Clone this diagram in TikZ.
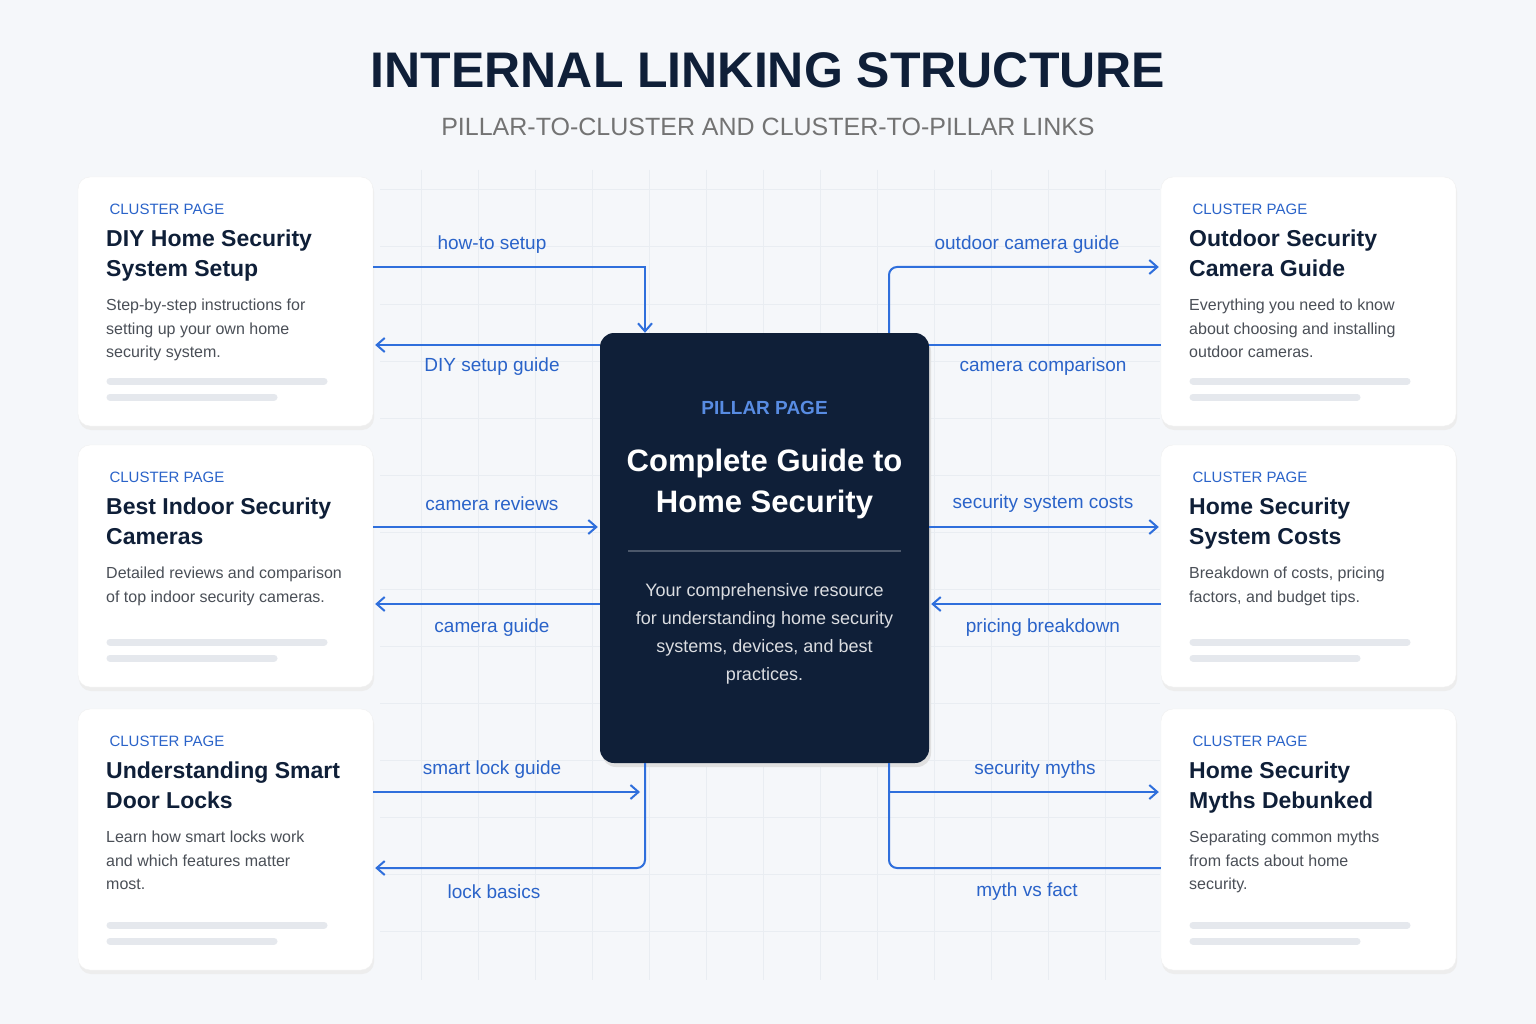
\documentclass[tikz,border=0pt]{standalone}
\usepackage{fontspec}
\setmainfont{Liberation Sans}
\usetikzlibrary{positioning,calc,arrows.meta}
\definecolor{bgc}{HTML}{F5F7FA}
\definecolor{navy}{HTML}{0F1F38}
\definecolor{linkblue}{HTML}{2F6FDC}
\definecolor{lblblue}{HTML}{2A63C9}
\definecolor{greytext}{HTML}{4A4F57}
\definecolor{barc}{HTML}{E5E8ED}
\definecolor{gridc}{HTML}{E9EDF2}
\newcommand{\clusterCard}[6]{% name, x, top, bottom, title, desc
  \fill[black!7,rounded corners=12] (#2+1,#3+3) rectangle (#2+296,#4+4);
  \node[card,minimum height=#4-#3] (#1) at (#2+147.5,#3/2+#4/2) {};
  \node[cardlbl] (#1l) at (#2+28,#3+32) {CLUSTER PAGE};
  \node[cardttl] (#1t) at (#2+28,#3+53) {#5};
  \node[carddsc] (#1d) at (#2+28,#3+122) {#6};
  \draw[bar] (#2+32,#4-45) -- (#2+246,#4-45);
  \draw[bar] (#2+32,#4-29) -- (#2+196,#4-29);
}
\begin{document}
\begin{tikzpicture}
[x=1pt,y=-1pt,
card/.style={draw=black!6,fill=white,rounded corners=12,minimum width=295,inner sep=0},
cardlbl/.style={anchor=west,text=lblblue,font=\fontsize{15}{18}\selectfont},
cardttl/.style={anchor=north west,align=left,text=navy,font=\bfseries\fontsize{23}{30}\selectfont,inner sep=0},
carddsc/.style={anchor=north west,align=left,text=greytext,font=\fontsize{16}{23.5}\selectfont,inner sep=0},
bar/.style={barc,line width=7,line cap=round},
link/.style={linkblue,line width=2,-{Straight Barb[length=8,width=14]}},
plink/.style={linkblue,line width=2},
lbl/.style={text=lblblue,font=\fontsize{19}{22}\selectfont}]
\useasboundingbox (0,0) rectangle (1536,1024);
\fill[bgc] (0,0) rectangle (1536,1024);
% faint grid
\foreach \gx in {421,478,...,1160} \draw[gridc,line width=1] (\gx,170) -- (\gx,980);
\foreach \gy in {190,247,...,980} \draw[gridc,line width=1] (380,\gy) -- (1160,\gy);

% heading
\node[text=navy,font=\bfseries\fontsize{50}{56}\selectfont] (head) at (768,70) {INTERNAL LINKING STRUCTURE};
\node[text=black!55,font=\fontsize{25}{30}\selectfont] (sub) at (768,127) {PILLAR-TO-CLUSTER AND CLUSTER-TO-PILLAR LINKS};

% cluster cards
\clusterCard{c1}{78}{177}{426}{DIY Home Security\\System Setup}{Step-by-step instructions for\\setting up your own home\\security system.}
\clusterCard{c2}{78}{445}{687}{Best Indoor Security\\Cameras}{Detailed reviews and comparison\\of top indoor security cameras.}
\clusterCard{c3}{78}{709}{970}{Understanding Smart\\Door Locks}{Learn how smart locks work\\and which features matter\\most.}
\clusterCard{c4}{1161}{177}{426}{Outdoor Security\\Camera Guide}{Everything you need to know\\about choosing and installing\\outdoor cameras.}
\clusterCard{c5}{1161}{445}{687}{Home Security\\System Costs}{Breakdown of costs, pricing\\factors, and budget tips.}
\clusterCard{c6}{1161}{709}{970}{Home Security\\Myths Debunked}{Separating common myths\\from facts about home\\security.}

% pillar
\fill[black!12,rounded corners=14] (602,337) rectangle (931,767);
\node[fill=navy,rounded corners=14,minimum width=329,minimum height=430,inner sep=0] (p) at (764.5,548) {};
\node[text=linkblue!80!white,font=\bfseries\fontsize{19}{22}\selectfont] (pl) at (764.5,408) {PILLAR PAGE};
\node[text=white,align=center,font=\bfseries\fontsize{31}{41}\selectfont] (pt) at (764.5,484) {Complete Guide to\\Home Security};
\draw[white!25!navy,line width=1.5] (628,551) -- (901,551);
\node[text=white!85!navy,align=center,font=\fontsize{18}{28}\selectfont] (pd) at (764.5,634) {Your comprehensive resource\\for understanding home security\\systems, devices, and best\\practices.};

% left links
\draw[link] (c1.east |- 0,267) -| (p.north -| 645,0);
\node[lbl] (l1) at (492,245) {how-to setup};
\draw[link] (p.west |- 0,345) -- ($(c1.east |- 0,345)+(2,0)$);
\node[lbl] (l2) at (492,367) {DIY setup guide};
\draw[link] (c2.east |- 0,527) -- ($(p.west |- 0,527)+(-2,0)$);
\node[lbl] (l3) at (492,504) {camera reviews};
\draw[link] (p.west |- 0,604) -- ($(c2.east |- 0,604)+(2,0)$);
\node[lbl] (l4) at (492,628) {camera guide};
\draw[link] (c3.east |- 0,792) -- (640,792);
\node[lbl] (l5) at (492,770) {smart lock guide};
\draw[link,rounded corners=8] (p.south -| 645,0) |- ($(c3.east |- 0,868)+(2,0)$);
\node[lbl] (l6) at (494,892) {lock basics};

% right links
\draw[link,rounded corners=8] (p.north -| 889,0) |- ($(c4.west |- 0,267)+(-2,0)$);
\node[lbl] (r1) at (1027,245) {outdoor camera guide};
\draw[plink] (c4.west |- 0,345) -- (p.east |- 0,345);
\node[lbl] (r2) at (1043,367) {camera comparison};
\draw[link] (p.east |- 0,527) -- ($(c5.west |- 0,527)+(-2,0)$);
\node[lbl] (r3) at (1043,504) {security system costs};
\draw[link] (c5.west |- 0,604) -- ($(p.east |- 0,604)+(2,0)$);
\node[lbl] (r4) at (1043,628) {pricing breakdown};
\draw[plink,rounded corners=8] (p.south -| 889,0) |- (c6.west |- 0,868);
\draw[link] (889,792) -- ($(c6.west |- 0,792)+(-2,0)$);
\node[lbl] (r5) at (1035,770) {security myths};
\node[lbl] (r6) at (1027,892) {myth vs fact};
\end{tikzpicture}
\end{document}
